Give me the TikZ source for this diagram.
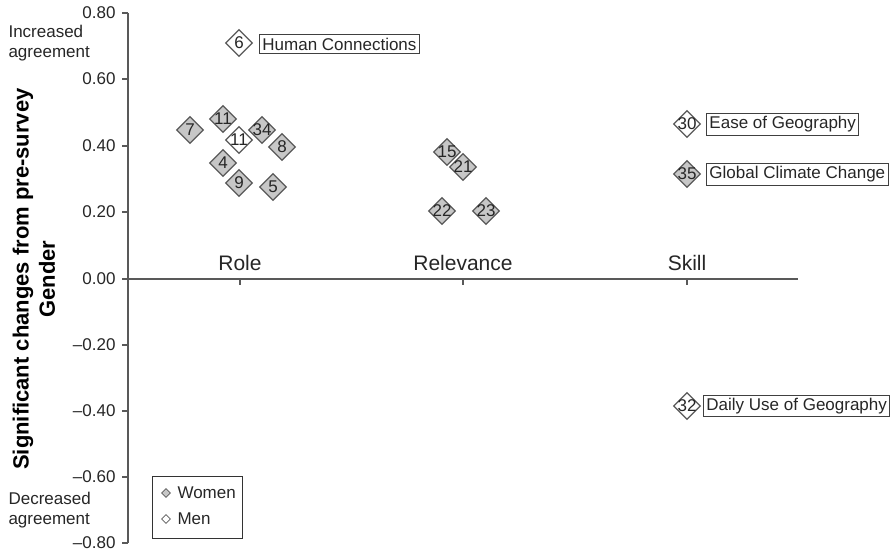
\documentclass[tikz,border=0pt]{standalone}
\usepackage{fontspec}
\setmainfont{Liberation Sans}
\usetikzlibrary{shapes.geometric}
\definecolor{axisgray}{gray}{0.35}
\definecolor{womenfill}{gray}{0.78}
\definecolor{markdraw}{gray}{0.35}
\tikzset{
  px/.style={x=1pt,y=-1pt},
  fs/.style={font=\fontsize{#1}{#1}\selectfont},
  mk/.style={diamond, draw=markdraw, line width=1.2pt, minimum width=27pt, minimum height=27pt, inner sep=0pt, aspect=1},
  women/.style={mk, fill=womenfill},
  men/.style={mk, fill=white},
  num/.style={fs=17, text=black!85},
  lbox/.style={draw=black!75, line width=0.9pt, fs=17, inner xsep=3pt, inner ysep=3pt, anchor=west, text=black!85},
  ticklab/.style={fs=17, anchor=east, text=black!85},
  catlab/.style={fs=21, text=black!85},
  sidelab/.style={font=\fontsize{17}{19.5}\selectfont, anchor=west, align=left, text=black!85},
  axisline/.style={draw=axisgray, line width=1.1pt},
}
\begin{document}
\begin{tikzpicture}[px]
\useasboundingbox (0,0) rectangle (894,553);
% axes
\coordinate (ytop) at (128,13);
\coordinate (ybot) at (128,543);
\coordinate (xl) at (128,279);
\coordinate (xr) at (798,279);
\draw[axisline] (ytop) -- (ybot);
\draw[axisline] (xl) -- (xr);
% y ticks
\foreach \v/\y in {0.80/13,0.60/79,0.40/146,0.20/212,0.00/279,{\textendash0.20}/345,{\textendash0.40}/411,{\textendash0.60}/477,{\textendash0.80}/543}{
  \draw[axisline] (122,\y) -- (128,\y);
  \node[ticklab] at (119,\y) {\v};
}
% x ticks
\foreach \x in {240,463,687}{ \draw[axisline] (\x,279) -- (\x,285); }
\node[catlab] (role) at (240,263) {Role};
\node[catlab] (relev) at (463,263) {Relevance};
\node[catlab] (skill) at (687,263) {Skill};
% side labels
\node[sidelab] (inc) at (5,43) {Increased\\agreement};
\node[sidelab] (dec) at (5,510) {Decreased\\agreement};
% axis title
\node[rotate=90, font=\fontsize{22}{22}\selectfont\bfseries] (title) at (23,279) {Significant changes from pre-survey};
\node[rotate=90, font=\fontsize{22}{22}\selectfont\bfseries] (gender) at (47,279) {Gender};
% Role markers
\node[men] (m6) at (239,43) {};   \node[num] at (m6) {6};
\node[lbox] (hc) at (259,44) {Human Connections};
\node[women] (m7) at (190,130) {}; \node[num] at (m7) {7};
\node[women] (m11w) at (223,119) {}; \node[num] at (m11w) {11};
\node[women] (m34) at (262,130) {}; \node[num] at (m34) {34};
\node[men] (m11m) at (239,140) {}; \node[num] at (m11m) {11};
\node[women] (m8) at (282,147) {}; \node[num] at (m8) {8};
\node[women] (m4) at (223,163) {}; \node[num] at (m4) {4};
\node[women] (m9) at (239,183) {}; \node[num] at (m9) {9};
\node[women] (m5) at (273,187) {}; \node[num] at (m5) {5};
% Relevance markers
\node[women] (m15) at (447,152) {}; \node[num] at (m15) {15};
\node[women] (m21) at (463,167) {}; \node[num] at (m21) {21};
\node[women] (m22) at (442,211) {}; \node[num] at (m22) {22};
\node[women] (m23) at (486,211) {}; \node[num] at (m23) {23};
% Skill markers
\node[men] (m30) at (687,124) {}; \node[num] at (m30) {30};
\node[lbox] (eog) at (706,124.5) {Ease of Geography};
\node[women] (m35) at (687,174) {}; \node[num] at (m35) {35};
\node[lbox] (gcc) at (706,174.5) {Global Climate Change};
\node[men] (m32) at (687,406) {}; \node[num] at (m32) {32};
\node[lbox] (dug) at (703,406) {Daily Use of Geography};
% legend
\node[draw=black!80, line width=1pt, minimum width=90pt, minimum height=62pt, anchor=north west] (legend) at (152,476) {};
\node[diamond, draw=markdraw, fill=womenfill, line width=0.8pt, minimum size=9pt, inner sep=0pt] (lw) at (166,493) {};
\node[diamond, draw=markdraw, fill=white, line width=0.8pt, minimum size=9pt, inner sep=0pt] (lm) at (166,519) {};
\node[sidelab] (lwt) at (174,493) {Women};
\node[sidelab] (lmt) at (174,519) {Men};
\end{tikzpicture}
\end{document}
